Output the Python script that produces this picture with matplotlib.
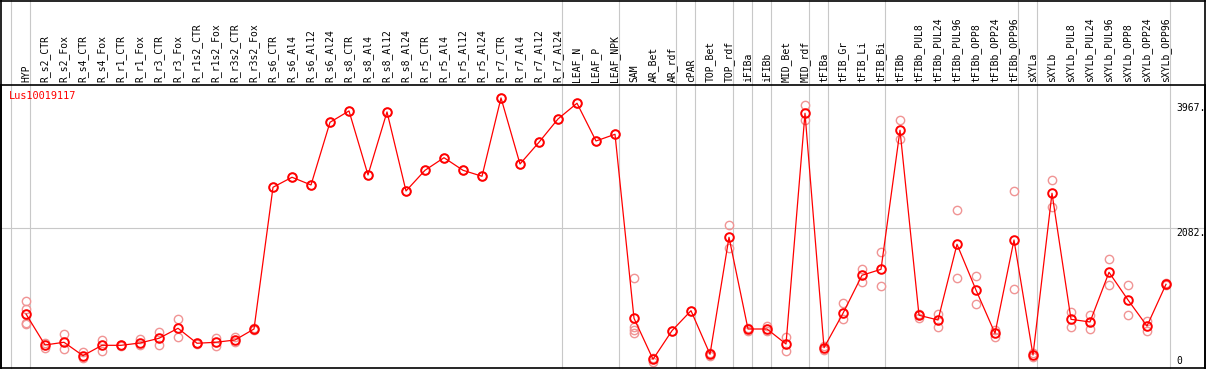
import numpy as np
import matplotlib
matplotlib.use("Agg")
import matplotlib.pyplot as plt
import matplotlib.transforms as mtransforms
from matplotlib.lines import Line2D

# ---------------- data ----------------
gene = "Lus10019117"
categories = ["HYP",
    "R_s2_CTR", "R_s2_Fox", "R_s4_CTR", "R_s4_Fox", "R_r1_CTR", "R_r1_Fox",
    "R_r3_CTR", "R_r3_Fox", "R_r1s2_CTR", "R_r1s2_Fox", "R_r3s2_CTR", "R_r3s2_Fox",
    "R_s6_CTR", "R_s6_Al4", "R_s6_Al12", "R_s6_Al24", "R_s8_CTR", "R_s8_Al4",
    "R_s8_Al12", "R_s8_Al24", "R_r5_CTR", "R_r5_Al4", "R_r5_Al12", "R_r5_Al24",
    "R_r7_CTR", "R_r7_Al4", "R_r7_Al12", "R_r7_Al24",
    "LEAF_N", "LEAF_P", "LEAF_NPK",
    "SAM", "AR_Bet", "AR_rdf",
    "cPAR",
    "TOP_Bet", "TOP_rdf",
    "iFIBa",
    "iFIBb",
    "MID_Bet", "MID_rdf",
    "tFIBa",
    "tFIB_Gr", "tFIB_Li", "tFIB_Bi",
    "tFIBb", "tFIBb_PUL8", "tFIBb_PUL24", "tFIBb_PUL96", "tFIBb_OPP8", "tFIBb_OPP24", "tFIBb_OPP96",
    "sXYLa",
    "sXYLb", "sXYLb_PUL8", "sXYLb_PUL24", "sXYLb_PUL96", "sXYLb_OPP8", "sXYLb_OPP24", "sXYLb_OPP96"]

# sizes of the sample groups (separated by grey lines)
group_sizes = [1, 28, 3, 3, 1, 2, 1, 1, 2, 1, 3, 7, 1, 7]

means = [784,
    317, 358, 156, 312, 312, 347, 418, 569, 343, 358, 392, 558,
    2695, 2846, 2730, 3675, 3846, 2881, 3831, 2639, 2951, 3141, 2951, 2861,
    4042, 3046, 3374, 3725,
    3962, 3393, 3494,
    720, 101, 533,
    834,
    177, 1941,
    558,
    558,
    332, 3811,
    276,
    795, 1368, 1458,
    3555, 765, 694, 1835, 1146, 493, 1900,
    166,
    2605, 704, 664, 1413, 996, 603, 1232]

replicates = [[980, 860, 649, 634],
    [347, 272], [483, 257], [211, 125], [392, 231], [321, 302], [407, 317],
    [513, 317], [709, 438], [352, 332], [427, 306], [442, 367], [566, 550],
    [2695], [2846], [2730], [3675], [3846], [2881], [3831], [2639], [2951], [3141], [2951], [2861],
    [4042], [3046], [3374], [3725],
    [3962], [3393], [3494],
    [1323, 584, 543, 493], [125, 65], [533],
    [834],
    [192, 156], [2127, 1775],
    [573, 533],
    [608, 533],
    [433, 231], [3936, 3710],
    [302, 242],
    [946, 714], [1463, 1262], [1715, 1202],
    [3705, 3419], [784, 724], [784, 593], [2348, 1323], [1357, 935], [543, 433], [2639, 1157],
    [192, 131],
    [2805, 2402], [819, 584], [765, 554], [1609, 1217], [1217, 765], [683, 524], [1247, 1217]]

ytick_values = [3967, 2082, 0]
ytick_labels = ["3967.", "2082.", "0"]

# ---------------- figure ----------------
W, H = 1209, 370
fig = plt.figure(figsize=(W / 100, H / 100), dpi=100)

def fx(px):
    return px / W

def fy(py):
    return 1 - py / H

left, right, top, bottom = 1, 1205, 85, 368
ax = fig.add_axes([fx(left), fy(bottom), fx(right - left), (bottom - top) / H])
n = len(categories)
x = np.arange(n)
xmin = -25 / 19
ax.set_xlim(xmin, xmin + (right - left) / 19)
ax.set_ylim(-30, 4237)

mono = "DejaVu Sans Mono"

# group separators
starts = np.cumsum([0] + group_sizes)
for s in starts:
    ax.axvline(s - 15 / 19, ymin=0, ymax=bottom / (bottom - top), color="#c8c8c8",
               lw=0.8, clip_on=False, zorder=1)
ax.axhline(2082, color="#c8c8c8", lw=0.8, zorder=1)

# replicates
for i, reps in enumerate(replicates):
    ax.plot([x[i]] * len(reps), reps, linestyle="none", marker="o", markersize=6.0,
            markerfacecolor="none", markeredgecolor="#f09494", markeredgewidth=1.0,
            zorder=2)

# mean line + markers
ax.plot(x, means, color="#ff0000", lw=0.9, zorder=3)
ax.plot(x, means, linestyle="none", marker="o", markersize=6.2, markerfacecolor="none",
        markeredgecolor="#ff0000", markeredgewidth=1.4, zorder=4)

# header labels
ax.xaxis.tick_top()
ax.set_xticks(x)
ax.set_xticklabels(categories, rotation=90, fontsize=7, family=mono, va="bottom", ha="center")
ax.tick_params(axis="x", length=0, pad=2.2)
ax.set_yticks([])

for sp in ax.spines.values():
    sp.set_color("black")
    sp.set_linewidth(1.2)

# y value labels
tr = mtransforms.blended_transform_factory(fig.transFigure, ax.transData)
for v, lab in zip(ytick_values, ytick_labels):
    ax.text(fx(1176), v, lab, transform=tr, fontsize=7, family=mono, ha="left",
            va="bottom" if v == 0 else "top", color="black")

# title
fig.text(fx(9), fy(91), gene, color="#ff0000", fontsize=7.4, family=mono, ha="left", va="top")

# outer border
fig.add_artist(Line2D([fx(left), fx(right)], [fy(0.5), fy(0.5)], color="black", lw=1.2))
fig.add_artist(Line2D([fx(left), fx(left)], [fy(0), fy(bottom)], color="black", lw=1.2))
fig.add_artist(Line2D([fx(right), fx(right)], [fy(0), fy(bottom)], color="black", lw=1.2))

fig.savefig("out.png", dpi=100)
